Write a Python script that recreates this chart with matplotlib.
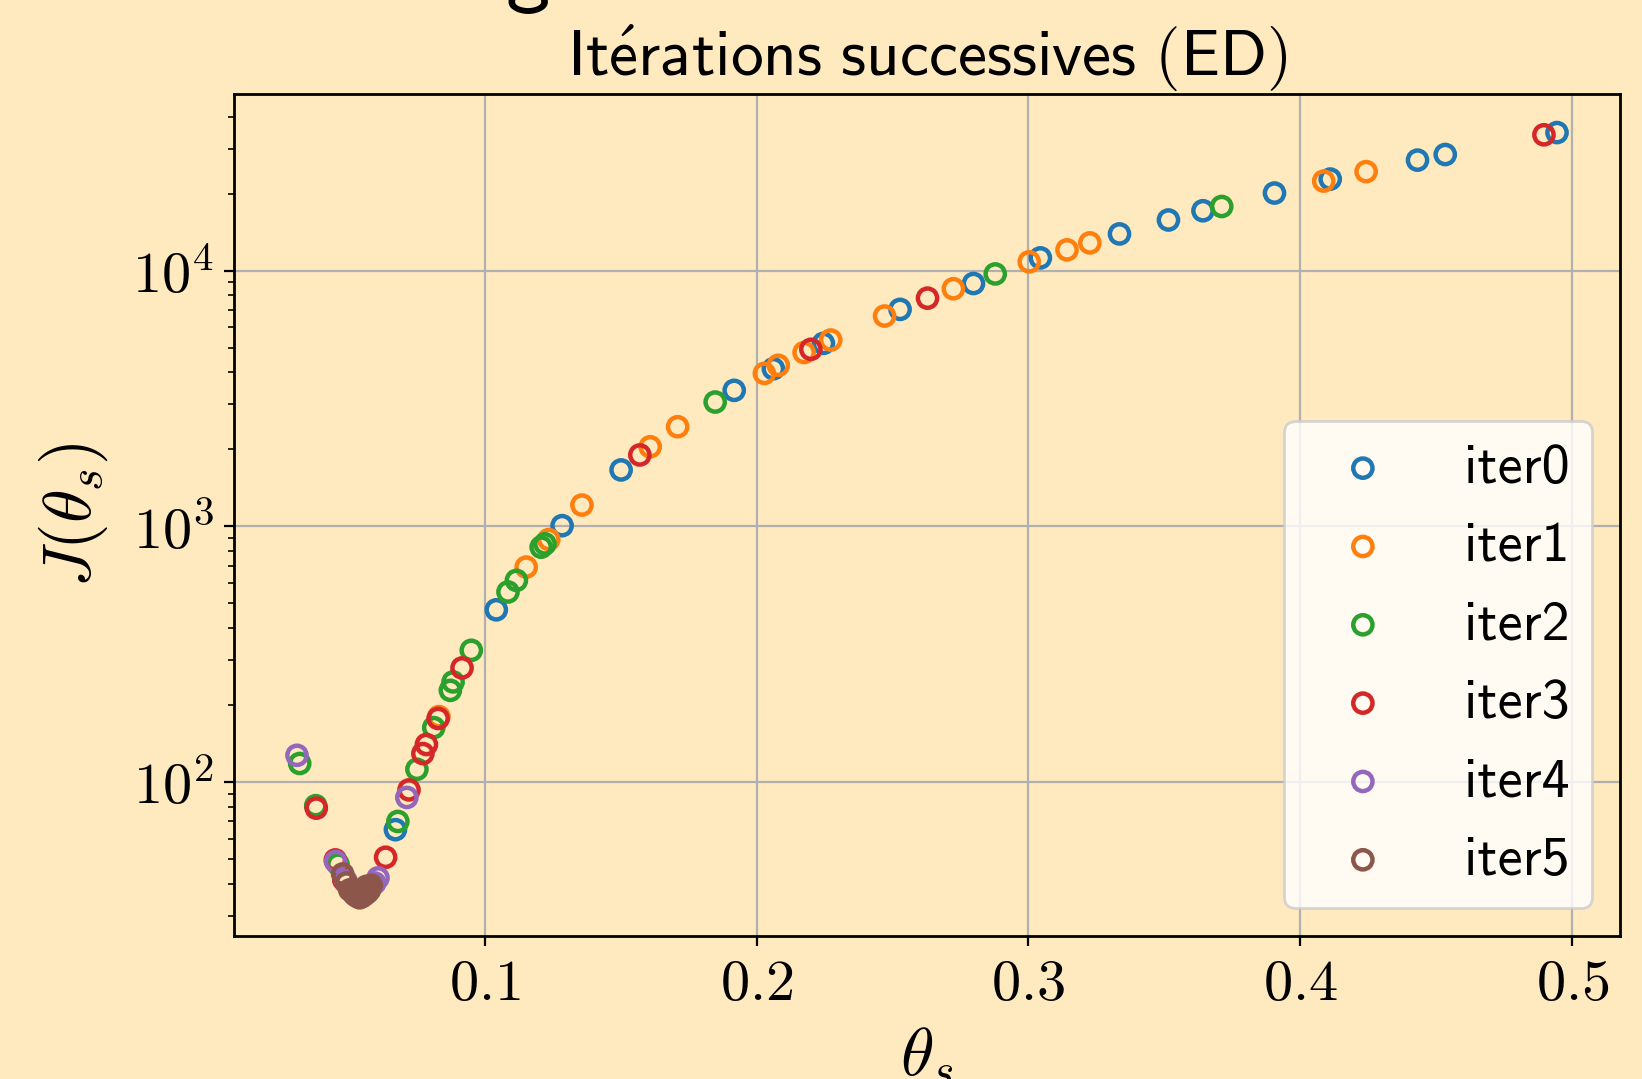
import numpy as np
import matplotlib
matplotlib.use("Agg")
import matplotlib.pyplot as plt
from matplotlib.ticker import FuncFormatter

plt.rcParams['mathtext.fontset'] = 'cm'

# theta_s and J(theta_s) for each iteration
theta_iter0 = [0.4944, 0.4533, 0.4431, 0.4110, 0.3905, 0.3642, 0.3515, 0.3335, 0.3044,
               0.2798, 0.2528, 0.2246, 0.2062, 0.1918, 0.1502, 0.1285, 0.1043, 0.0672]
J_iter0 = [34660, 28440, 27040, 22800, 20100, 17140, 15770, 13910, 11210,
           8900, 7050, 5190, 4130, 3400, 1660, 1005, 471, 65]

theta_iter1 = [0.4242, 0.4086, 0.3226, 0.3142, 0.3003, 0.2724, 0.2471, 0.2273, 0.2175,
               0.2080, 0.2029, 0.1710, 0.1609, 0.1358, 0.1236, 0.1153, 0.0832]
J_iter1 = [24380, 22390, 12830, 12050, 10820, 8490, 6640, 5350, 4780,
           4260, 3960, 2450, 2045, 1210, 887, 692, 180]

theta_iter2 = [0.3711, 0.2878, 0.1848, 0.1222, 0.1208, 0.1117, 0.1086, 0.0951, 0.0884,
               0.0874, 0.0813, 0.0751, 0.0681, 0.0320, 0.0379, 0.0461]
J_iter2 = [17810, 9700, 3060, 853, 828, 614, 553, 327, 246,
           228, 163, 112, 70, 118, 80.7, 47.6]

theta_iter3 = [0.4896, 0.2629, 0.2200, 0.1571, 0.0917, 0.0829, 0.0786, 0.0773, 0.0722,
               0.0381, 0.0636, 0.0451, 0.0482]
J_iter3 = [33970, 7800, 4920, 1900, 279, 177, 140, 129, 93,
           78.9, 50.7, 49.5, 41.4]

theta_iter4 = [0.0310, 0.0714, 0.0452, 0.0608, 0.0596, 0.0575, 0.0490]
J_iter4 = [127, 86.9, 48.8, 42.1, 40.2, 38.5, 41.0]

theta_iter5 = [0.0478, 0.0492, 0.0504, 0.0515, 0.0522, 0.0530, 0.0540, 0.0548, 0.0559,
               0.0565, 0.0570, 0.0577, 0.0583]
J_iter5 = [43.6, 40.2, 37.8, 37.0, 36.2, 35.7, 35.2, 35.5, 36.2,
           39.0, 37.0, 37.8, 39.4]

thetas = [theta_iter0, theta_iter1, theta_iter2, theta_iter3, theta_iter4, theta_iter5]
Js = [J_iter0, J_iter1, J_iter2, J_iter3, J_iter4, J_iter5]
labels = ['iter0', 'iter1', 'iter2', 'iter3', 'iter4', 'iter5']

bg = '#FFEAC0'
fig = plt.figure(figsize=(8.21, 5.395), dpi=200, facecolor=bg)
ax = fig.add_axes([0.1425, 0.1325, 0.8441, 0.7801], facecolor=bg)

for i, (th, J) in enumerate(zip(thetas, Js)):
    ax.scatter(th, J, s=48, facecolors='none', edgecolors='C%d' % i,
               linewidths=1.6, label=labels[i], zorder=3)

ax.set_yscale('log')
ax.set_xticks([0.1, 0.2, 0.3, 0.4, 0.5])
ax.xaxis.set_major_formatter(FuncFormatter(lambda v, p: r'$%.1f$' % v))
ax.yaxis.set_major_formatter(FuncFormatter(lambda v, p: r'$10^{%d}$' % round(np.log10(v))))
ax.grid(True, which='major', color='#b0b0b0', linewidth=0.8)
ax.set_axisbelow(True)
ax.tick_params(labelsize=21)
for sp in ax.spines.values():
    sp.set_linewidth(1.0)

ax.set_xlabel(r'$\theta_s$', fontsize=24.5, labelpad=4)
ax.set_ylabel(r'$J(\theta_s)$', fontsize=24.5, labelpad=8)
ax.set_title(r'$\mathsf{It\acute{e}rations\ successives\ (ED)}$', fontsize=23.5, pad=6)

ax.legend(loc='lower right', prop={'family': 'cmss10', 'size': 20.2})

# tail of the cut-off figure heading above the plot
fig.text(0.3216, 1 + 4 / 1079, 'g', family='cmss10', fontsize=32,
         ha='center', va='baseline')

fig.savefig('out.png', dpi=200, facecolor=bg)
